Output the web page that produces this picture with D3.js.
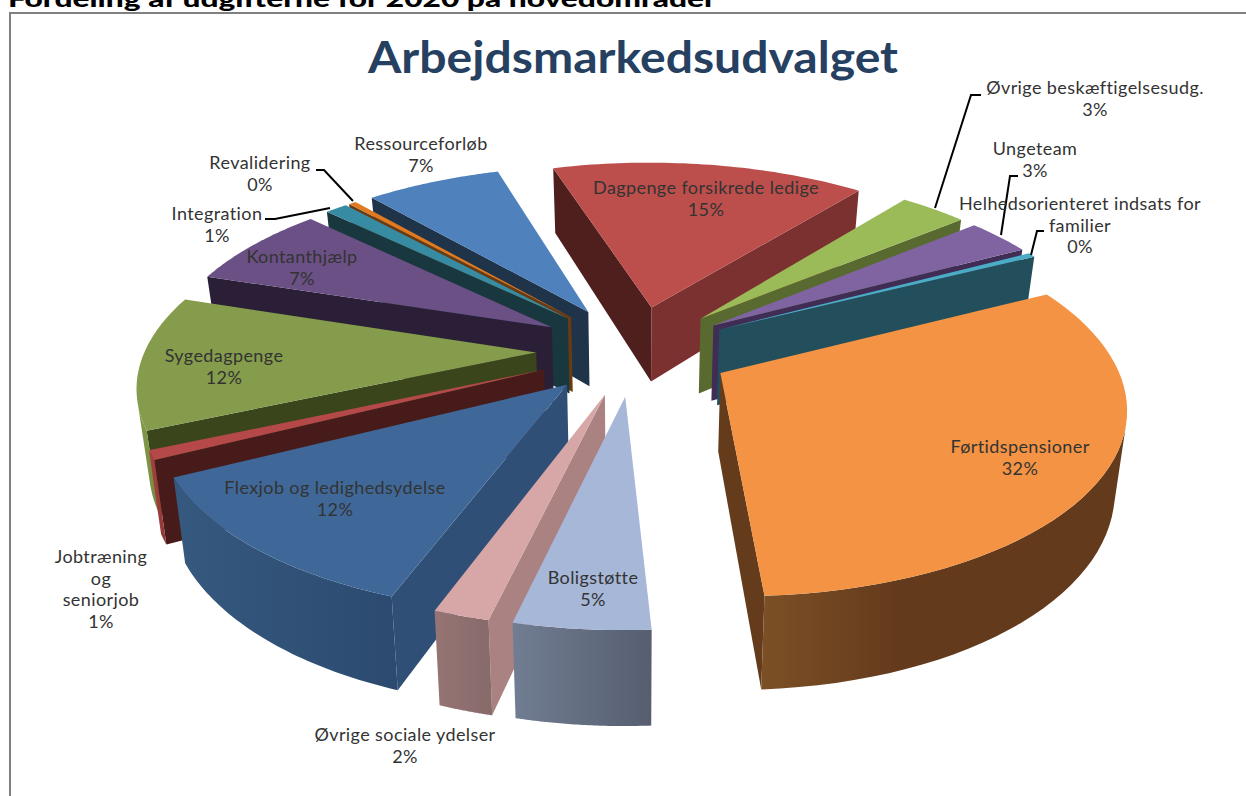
<!DOCTYPE html>
<html><head><meta charset="utf-8">
<script src="https://d3js.org/d3.v7.min.js"></script>
<style>html,body{margin:0;padding:0;background:#fff;overflow:hidden}svg{display:block}</style>
</head><body><svg id="c" width="1246" height="796"></svg>
<script>
const categories=["Dagpenge forsikrede ledige","Øvrige beskæftigelsesudg.","Ungeteam","Helhedsorienteret indsats for familier","Førtidspensioner","Boligstøtte","Øvrige sociale ydelser","Flexjob og ledighedsydelse","Jobtræning og seniorjob","Sygedagpenge","Kontanthjælp","Integration","Revalidering","Ressourceforløb"];
const values=[15.4,3.3,3.2,0.4,31.5,4.6,1.9,11.98,0.8,11.6,7.25,1.1,0.36,6.61];
const percentLabels=["15%","3%","3%","0%","32%","5%","2%","12%","1%","12%","7%","1%","0%","7%"];
const labelLines=[["Dagpenge forsikrede ledige"],["Øvrige beskæftigelsesudg."],["Ungeteam"],["Helhedsorienteret indsats for","familier"],["Førtidspensioner"],["Boligstøtte"],["Øvrige sociale ydelser"],["Flexjob og ledighedsydelse"],["Jobtræning","og","seniorjob"],["Sygedagpenge"],["Kontanthjælp"],["Integration"],["Revalidering"],["Ressourceforløb"]];
const topColors=["#BC4F4C","#9BBB59","#8064A2","#4BACC6","#F39343","#A7B7D8","#D7A6A6","#3F6899","#B5494A","#849C4B","#6A5084","#378CA3","#E07A20","#4F81BD"];
const startWall=["#4f1f1e","#586a30","#3f2d55","#234f5c","#643c1c","#7a859c","#aa8282","#2f4f76","#471b1a","#3a451b","#2a1f36","#18373f","#6a3a12","#1f3349"];
const endWall=["#7b3130","#586a30","#3f2d55","#234f5c","#643c1c","#7a859c","#aa8282","#2f4f76","#471b1a","#3a451b","#2a1f36","#18373f","#6a3a12","#1f3349"];
const rimLeft=["#7b3130","#6a7c40","#5a4578","#2f7a8e","#7c5026","#717d92","#967474","#36597f","#a8413e","#849C4B","#4a3860","#266577","#a5591b","#35598a"];
const rimRight=["#7b3130","#586a30","#3f2d55","#234f5c","#633a1c","#565e70","#876a6a","#2c4a6f","#8f3735","#748a42","#3a2c4c","#1e4a57","#8a4a15","#2a4770"];
const rimKnee=[1,1,1,1,0.38,1,1,1,1,1,1,1,1,1];
const labelCentres=[[706,188],[1095,88],[1035,149],[1080,204],[1020,447],[593,578],[405,735],[335,488],[101,557],[224,356],[302,257],[217,214],[260,163],[421,144]];
const leaderLines=[[1,[[981,95],[971,95],[935,208]]],[2,[[1018,176],[1010,176],[1001,235]]],[3,[[1044,231],[1037,231],[1031,255]]],[12,[[316,170],[324,170],[353,201]]],[11,[[265,219],[275,219],[330,208]]]];

const cx=634,cy=350,R=391,kR=180,persp=0.158,depth=77,explode=0.25,startDeg=-17;
const svg=d3.select("#c");
const pie=d3.pie().sort(null).value(d=>d).startAngle(startDeg*Math.PI/180).endAngle((startDeg+360)*Math.PI/180);
const arcs=pie(values).map((d,i)=>({...d,i,mid:(d.startAngle+d.endAngle)/2}));

function project(X,Y,bottom){
  const s=1/(1-persp*Y);
  const xs=bottom?0.975:1;
  return [cx+R*X*s*xs, cy+kR*Y*s+(bottom?depth*s:0)];
}
const pt=(d,r,a,b)=>project(r*Math.sin(a)+explode*Math.sin(d.mid),-r*Math.cos(a)-explode*Math.cos(d.mid),b);
const line=d3.line().curve(d3.curveLinearClosed);
const area=p=>{let s=0;p.forEach((q,i)=>{const n=p[(i+1)%p.length];s+=q[0]*n[1]-n[0]*q[1]});return s/2};

const defs=svg.append("defs");
arcs.forEach(d=>{
  const g=defs.append("linearGradient").attr("id","rim"+d.i);
  g.append("stop").attr("offset",0).attr("stop-color",rimLeft[d.i]);
  g.append("stop").attr("offset",rimKnee[d.i]).attr("stop-color",rimRight[d.i]);
});

svg.append("text").attr("x",8).attr("y",7).attr("font-family","Lato").attr("font-weight",900).attr("font-size",22)
  .attr("textLength",708).attr("lengthAdjust","spacingAndGlyphs").attr("fill","#000").text("Fordeling af udgifterne for 2020 på hovedområder");
svg.append("rect").attr("x",10).attr("y",13).attr("width",1300).attr("height",900).attr("fill","#fff").attr("stroke","#808080").attr("stroke-width",2);
svg.append("text").attr("x",633).attr("y",73).attr("text-anchor","middle").attr("font-family","Lato").attr("font-weight",700).attr("font-size",44)
  .attr("textLength",530).attr("lengthAdjust","spacingAndGlyphs").attr("fill","#254061").text("Arbejdsmarkedsudvalget");

const order=[...arcs].sort((a,b)=>(-Math.cos(a.mid))-(-Math.cos(b.mid)));
const N=48;
order.forEach(d=>{
  const g=svg.append("g");
  const tip=pt(d,0,0,false),tipB=pt(d,0,0,true);
  const pts=d3.range(N+1).map(j=>d.startAngle+(d.endAngle-d.startAngle)*j/N);
  const T=pts.map(a=>pt(d,1,a,false)),B=pts.map(a=>pt(d,1,a,true));
  const wa=[tip,T[0],B[0],tipB];
  if(area(wa)<0) g.append("path").attr("d",line(wa)).attr("fill",startWall[d.i]);
  const wb=[tip,T[N],B[N],tipB];
  if(area(wb)>0) g.append("path").attr("d",line(wb)).attr("fill",endWall[d.i]);
  const vis=d3.range(N).filter(j=>area([T[j],T[j+1],B[j+1],B[j]])<0);
  if(vis.length){
    const a=vis[0],b=vis[vis.length-1]+1;
    const poly=T.slice(a,b+1).concat(B.slice(a,b+1).reverse());
    g.append("path").attr("d",line(poly)).attr("fill",`url(#rim${d.i})`);
  }
  g.append("path").attr("d",line([tip,...T])).attr("fill",topColors[d.i]);
});

const lg=svg.append("g").attr("fill","none").attr("stroke","#000").attr("stroke-width",2);
leaderLines.forEach(([i,p])=>lg.append("path").attr("d",d3.line()(p)));

const fs=18,lh=21.5;
arcs.forEach(d=>{
  const [x,y]=labelCentres[d.i];
  const lines=labelLines[d.i].concat(percentLabels[d.i]);
  lines.forEach((t,j)=>svg.append("text").attr("x",x).attr("y",y+j*lh+6).attr("text-anchor","middle")
    .attr("font-family","Lato").attr("font-size",fs).attr("letter-spacing",0.4).attr("fill","#333").text(t));
});
</script></body></html>
